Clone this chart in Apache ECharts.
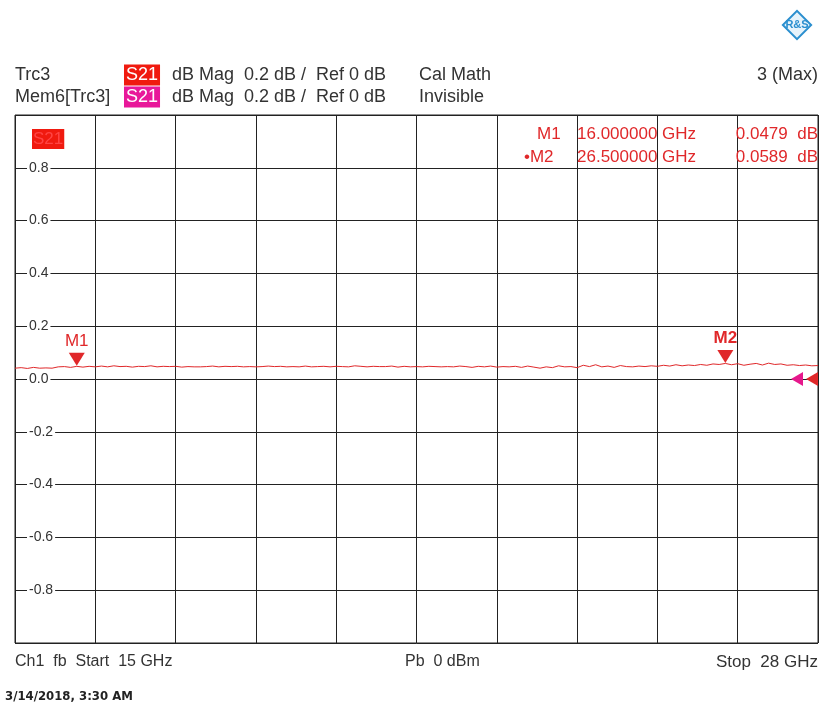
<!DOCTYPE html>
<html>
<head>
<meta charset="utf-8">
<script src="https://cdn.jsdelivr.net/npm/echarts@6/dist/echarts.min.js"></script>
<style>html,body{margin:0;padding:0;background:#fff;}#c{width:822px;height:710px;}</style>
</head>
<body>
<div id="c"></div>
<script>
// ---- data ----
var freqStartGHz = 15;
var freqStopGHz = 28;
var freqStepGHz = 0.1;
var s21dB = [
  0.041, 0.043, 0.040, 0.044, 0.041, 0.042, 0.041, 0.046, 0.047, 0.044,
  0.0479, 0.045, 0.048, 0.046, 0.049, 0.046, 0.050, 0.047, 0.048, 0.045,
  0.048, 0.047, 0.050, 0.046, 0.048, 0.047, 0.048, 0.045, 0.047, 0.046,
  0.046, 0.047, 0.049, 0.046, 0.048, 0.047, 0.048, 0.046, 0.047, 0.046,
  0.047, 0.049, 0.047, 0.048, 0.046, 0.047, 0.046, 0.049, 0.046, 0.047,
  0.048, 0.046, 0.048, 0.047, 0.046, 0.050, 0.048, 0.046, 0.048, 0.047,
  0.047, 0.049, 0.045, 0.048, 0.046, 0.047, 0.046, 0.048, 0.047, 0.046,
  0.047, 0.046, 0.049, 0.047, 0.044, 0.048, 0.046, 0.049, 0.045, 0.047,
  0.046, 0.048, 0.044, 0.049, 0.045, 0.041, 0.046, 0.043, 0.050, 0.046,
  0.047, 0.043, 0.052, 0.047, 0.054, 0.046, 0.049, 0.044, 0.051, 0.047,
  0.046, 0.049, 0.047, 0.050, 0.048, 0.052, 0.049, 0.054, 0.050, 0.053,
  0.051, 0.055, 0.052, 0.057, 0.055, 0.0589, 0.054, 0.058, 0.052, 0.056,
  0.059, 0.053, 0.060, 0.055, 0.057, 0.052, 0.054, 0.051, 0.053, 0.050,
  0.051
];
var markerNames = ['M1', 'M2'];
var markerFreqGHz = [16.0, 26.5];
var markerValuesdB = [0.0479, 0.0589];
var refLevelDB = 0;
var yMin = -1, yMax = 1, yStep = 0.2;

var traceData = s21dB.map(function (v, i) {
  return [+(freqStartGHz + i * freqStepGHz).toFixed(2), v];
});

var RED = '#e0282a';
var PINK = '#e6188c';
var TXT = '#333';
var FONT = '"Liberation Sans", Arial, sans-serif';

var chart = echarts.init(document.getElementById('c'), null, {renderer: 'canvas'});

var markerPts = markerNames.map(function (n, i) {
  return {
    name: n,
    coord: [markerFreqGHz[i], markerValuesdB[i]],
    symbol: 'triangle',
    symbolRotate: 180,
    symbolSize: [16, 13],
    symbolOffset: [0, -7],
    itemStyle: {color: RED},
    label: {
      show: true, position: 'top', distance: 3, formatter: n,
      color: RED, fontFamily: FONT, fontSize: 17,
      fontWeight: i === 1 ? 'bold' : 'normal'
    }
  };
});
markerPts.push({
  coord: [freqStopGHz, refLevelDB], symbol: 'triangle', symbolRotate: 90,
  symbolSize: [14, 12], symbolOffset: [-6, 0], itemStyle: {color: RED}, label: {show: false}
});
markerPts.push({
  coord: [freqStopGHz, refLevelDB], symbol: 'triangle', symbolRotate: 90,
  symbolSize: [14, 12], symbolOffset: [-21, 0], itemStyle: {color: PINK}, label: {show: false}
});

function txt(x, y, s, opts) {
  opts = opts || {};
  return {
    type: 'text', x: x, y: y, z: 10,
    style: {
      text: s, fill: opts.fill || TXT, font: (opts.weight || 'normal') + ' ' + (opts.size || 18) + 'px ' + (opts.family || FONT),
      textAlign: opts.align || 'left', textVerticalAlign: 'middle',
      backgroundColor: opts.bg, padding: opts.pad
    }
  };
}

var graphics = [
  txt(15, 75, 'Trc3'),
  txt(15, 97, 'Mem6[Trc3]'),
  txt(124, 75, 'S21', {fill: '#fff', bg: '#f01a0f', pad: [2, 2, 1, 2]}),
  txt(124, 97, 'S21', {fill: '#fff', bg: '#e8189a', pad: [2, 2, 1, 2]}),
  txt(172, 75, 'dB Mag  0.2 dB /  Ref 0 dB'),
  txt(172, 97, 'dB Mag  0.2 dB /  Ref 0 dB'),
  txt(419, 75, 'Cal Math'),
  txt(419, 97, 'Invisible'),
  txt(818, 75, '3 (Max)', {align: 'right'}),
  txt(32, 139, 'S21', {fill: '#f44', bg: '#f01a0f', size: 17, pad: [2, 1, 1, 1]}),
  txt(537, 134, 'M1', {fill: RED, size: 17}),
  txt(524, 157, '\u2022M2', {fill: RED, size: 17}),
  txt(577, 134, '16.000000 GHz', {fill: RED, size: 17}),
  txt(577, 157, '26.500000 GHz', {fill: RED, size: 17}),
  txt(818, 134, '0.0479  dB', {fill: RED, align: 'right', size: 17}),
  txt(818, 157, '0.0589  dB', {fill: RED, align: 'right', size: 17}),
  txt(15, 662, 'Ch1  fb  Start  15 GHz', {size: 16}),
  txt(405, 662, 'Pb  0 dBm', {size: 16}),
  txt(818, 662, 'Stop  28 GHz', {align: 'right', size: 17}),
  txt(5, 697, '3/14/2018, 3:30 AM', {weight: 'bold', size: 13, family: '"Liberation Sans Narrow", "DejaVu Sans Condensed", sans-serif', fill: '#222'}),
  {
    type: 'rect', x: 797, y: 25, rotation: Math.PI / 4, z: 10,
    shape: {x: -10, y: -10, width: 20, height: 20},
    style: {fill: '#e6f3fb', stroke: '#2b8fcf', lineWidth: 2}
  },
  txt(797, 25, 'R&S', {fill: '#2b8fcf', size: 11, align: 'center', weight: 'bold'})
];

var option = {
  animation: false,
  backgroundColor: '#fff',
  grid: {left: 15, right: 4, top: 115, bottom: 67, show: true, borderColor: '#222', borderWidth: 1, containLabel: false},
  xAxis: [
    {type: 'value', min: freqStartGHz, max: freqStopGHz, show: false, splitLine: {show: false}},
    {type: 'value', min: 0, max: 10, interval: 1, position: 'bottom',
     axisLine: {show: false}, axisTick: {show: false}, axisLabel: {show: false},
     splitLine: {show: true, lineStyle: {color: '#222', width: 1}}}
  ],
  yAxis: [
    {type: 'value', min: yMin, max: yMax, interval: yStep, z: 0,
     axisLine: {show: false}, axisTick: {show: false}, axisLabel: {show: false},
     splitLine: {show: true, lineStyle: {color: '#222', width: 1}}},
    {type: 'value', min: yMin, max: yMax, interval: yStep, position: 'left', z: 5,
     axisLine: {show: false}, axisTick: {show: false}, splitLine: {show: false},
     axisLabel: {
       inside: true, margin: 12, color: TXT, fontFamily: FONT, fontSize: 14,
       backgroundColor: '#fff', padding: [0, 2, 0, 2],
       formatter: function (v) { return Math.abs(v) > 0.9 ? '' : v.toFixed(1); }
     }}
  ],
  graphic: graphics,
  series: [{
    type: 'line', xAxisIndex: 0, yAxisIndex: 0, data: traceData, showSymbol: false,
    lineStyle: {color: RED, width: 1}, z: 3,
    markPoint: {data: markerPts}
  }]
};
chart.setOption(option);
</script>
</body>
</html>
